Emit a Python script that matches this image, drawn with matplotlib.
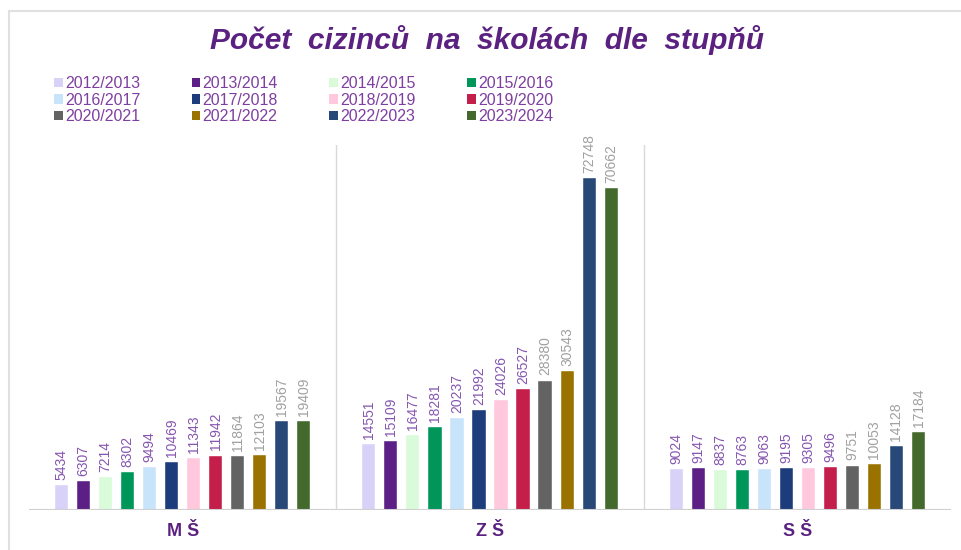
import matplotlib.pyplot as plt
import numpy as np
from matplotlib.patches import Rectangle, Patch

# Data
categories = ['M Š', 'Z Š', 'S Š']
years = ['2012/2013', '2013/2014', '2014/2015', '2015/2016',
         '2016/2017', '2017/2018', '2018/2019', '2019/2020',
         '2020/2021', '2021/2022', '2022/2023', '2023/2024']
ms = [5434, 6307, 7214, 8302, 9494, 10469, 11343, 11942, 11864, 12103, 19567, 19409]
zs = [14551, 15109, 16477, 18281, 20237, 21992, 24026, 26527, 28380, 30543, 72748, 70662]
ss = [9024, 9147, 8837, 8763, 9063, 9195, 9305, 9496, 9751, 10053, 14128, 17184]

colors = ['#d9d2f8', '#5b1f86', '#d9fbd9', '#00965a',
          '#c8e4fa', '#1c3c7c', '#ffc8dc', '#c41e4a',
          '#636363', '#9a7200', '#284878', '#436a2c']

purple = '#5b2181'
label_purple = '#8656b0'
label_gray = '#a0a0a0'

plt.rcParams['font.family'] = ['Liberation Sans', 'DejaVu Sans']

fig = plt.figure(figsize=(9.61, 5.5), dpi=100)
ax = fig.add_axes([29 / 961, 1 - 510 / 550, 922 / 961, 365 / 550])

values = np.array([ms, zs, ss])
x = np.arange(len(categories))
slot = 0.0717
width = 0.043

for i, year in enumerate(years):
    pos = x + (i - 5.5) * slot
    ax.bar(pos, values[:, i], width=width, color=colors[i], label=year,
           edgecolor='white', linewidth=0.3)
    for xp, v in zip(pos, values[:, i]):
        ax.text(xp, v + 1100, str(v), rotation=90, ha='center', va='bottom',
                fontsize=10, color=label_purple if i < 8 else label_gray)

ax.set_xlim(-0.5, 2.5)
ax.set_ylim(0, 80000)
ax.axvline(0.5, color='#d9d9d9', linewidth=1)
ax.axvline(1.5, color='#d9d9d9', linewidth=1)
ax.axhline(0, color='#d0d0d0', linewidth=1.5)
for s in ax.spines.values():
    s.set_visible(False)
ax.set_yticks([])
ax.set_xticks(x)
ax.set_xticklabels(categories, fontsize=13, fontweight='bold', color=purple)
ax.tick_params(axis='x', length=0, pad=9)

fig.text(0.507, 1 - 40 / 550, 'Počet  cizinců  na  školách  dle  stupňů', ha='center',
         va='center', fontsize=21.5, fontweight='bold', fontstyle='italic', color=purple)

# legend in row-major order
handles = [Patch(facecolor=c, label=y) for c, y in zip(colors, years)]
order = [0, 4, 8, 1, 5, 9, 2, 6, 10, 3, 7, 11]
fig.legend([handles[k] for k in order], [years[k] for k in order], ncol=4,
           loc='upper left', bbox_to_anchor=(54 / 961, 1 - 76 / 550),
           frameon=False, fontsize=11.5, handlelength=0.55, handleheight=0.55,
           handletextpad=0.15, columnspacing=3.2, labelspacing=0.1,
           labelcolor='#7f3fa0', borderaxespad=0, borderpad=0)

fig.patches.append(Rectangle((9 / 961, -0.1), 1.1, 1 - 11 / 550 + 0.1,
                             transform=fig.transFigure, fill=False,
                             edgecolor='#e0e0e0', linewidth=1.5))

fig.savefig('out.png', dpi=100)
